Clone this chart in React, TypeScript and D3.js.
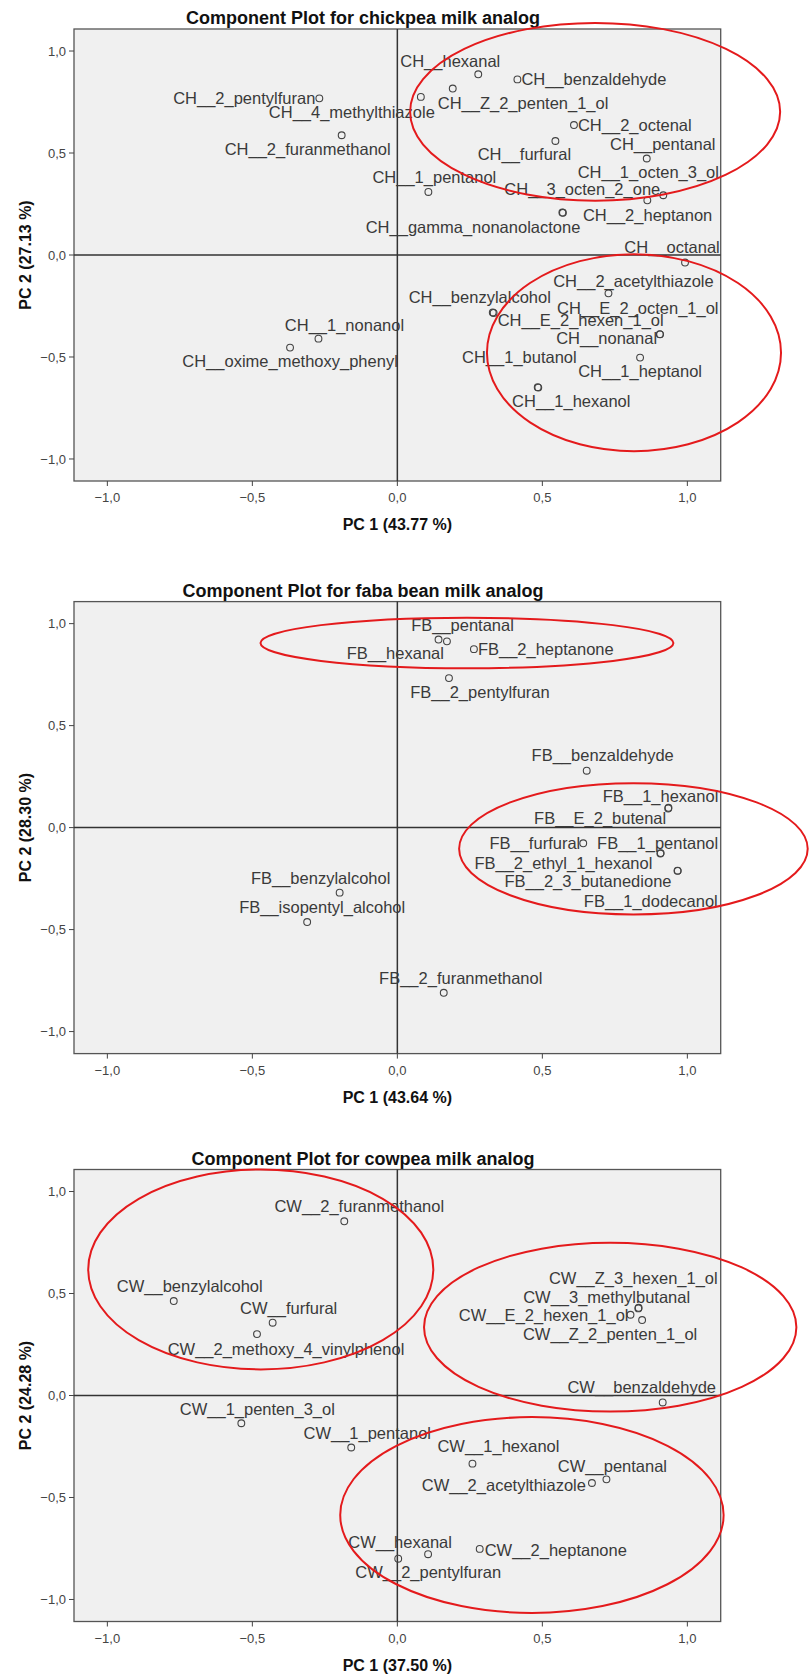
import * as d3 from "d3";
import React from "react";

// ---- data ----
const axisTicks = [-1, -0.5, 0, 0.5, 1];

const chTitle = "Component Plot for chickpea milk analog";
const chPC1Label = "PC 1 (43.77 %)";
const chPC2Label = "PC 2 (27.13 %)";
const chNames = [
  "CH__hexanal", "CH__benzaldehyde", "CH__Z_2_penten_1_ol", "CH__4_methylthiazole",
  "CH__2_pentylfuran", "CH__2_furanmethanol", "CH__2_octenal", "CH__furfural",
  "CH__pentanal", "CH__1_octen_3_ol", "CH__3_octen_2_one", "CH__1_pentanol",
  "CH__2_heptanon", "CH__gamma_nonanolactone", "CH__octanal", "CH__2_acetylthiazole",
  "CH__benzylalcohol", "CH__E_2_hexen_1_ol", "CH__E_2_octen_1_ol", "CH__nonanal",
  "CH__1_butanol", "CH__1_heptanol", "CH__1_hexanol", "CH__1_nonanol",
  "CH__oxime_methoxy_phenyl",
];
const chPC1 = [
  0.279, 0.414, 0.191, 0.081, -0.269, -0.192, 0.609, 0.545, 0.86, 0.862, 0.917, 0.107,
  0.571, 0.569, 0.992, 0.728, 0.329, 0.332, 0.905, 0.906, 0.484, 0.837, 0.486, -0.272,
  -0.37,
];
const chPC2 = [
  0.886, 0.861, 0.816, 0.775, 0.768, 0.587, 0.637, 0.559, 0.473, 0.268, 0.293, 0.309,
  0.207, 0.208, -0.037, -0.188, -0.282, -0.284, -0.388, -0.389, -0.648, -0.503, -0.65,
  -0.41, -0.454,
];

const fbTitle = "Component Plot for faba bean milk analog";
const fbPC1Label = "PC 1 (43.64 %)";
const fbPC2Label = "PC 2 (28.30 %)";
const fbNames = [
  "FB__pentanal", "FB__hexanal", "FB__2_heptanone", "FB__2_pentylfuran",
  "FB__benzaldehyde", "FB__1_hexanol", "FB__E_2_butenal", "FB__furfural",
  "FB__1_pentanol", "FB__2_ethyl_1_hexanol", "FB__2_3_butanedione", "FB__1_dodecanol",
  "FB__benzylalcohol", "FB__isopentyl_alcohol", "FB__2_furanmethanol",
];
const fbPC1 = [
  0.142, 0.171, 0.264, 0.178, 0.653, 0.935, 0.934, 0.641, 0.908, 0.907, 0.966, 0.967,
  -0.199, -0.311, 0.16,
];
const fbPC2 = [
  0.922, 0.913, 0.875, 0.733, 0.279, 0.097, 0.094, -0.077, -0.125, -0.127, -0.211,
  -0.212, -0.319, -0.463, -0.81,
];

const cwTitle = "Component Plot for cowpea milk analog";
const cwPC1Label = "PC 1 (37.50 %)";
const cwPC2Label = "PC 2 (24.28 %)";
const cwNames = [
  "CW__2_furanmethanol", "CW__benzylalcohol", "CW__furfural", "CW__2_methoxy_4_vinylphenol",
  "CW__1_penten_3_ol", "CW__1_pentanol", "CW__2_pentylfuran", "CW__hexanal",
  "CW__2_heptanone", "CW__1_hexanol", "CW__2_acetylthiazole", "CW__pentanal",
  "CW__Z_3_hexen_1_ol", "CW__3_methylbutanal", "CW__E_2_hexen_1_ol", "CW__Z_2_penten_1_ol",
  "CW__benzaldehyde",
];
const cwPC1 = [
  -0.183, -0.771, -0.43, -0.484, -0.538, -0.159, 0.003, 0.106, 0.284, 0.259, 0.671, 0.721,
  0.831, 0.832, 0.804, 0.844, 0.915,
];
const cwPC2 = [
  0.854, 0.463, 0.357, 0.301, -0.136, -0.255, -0.8, -0.778, -0.752, -0.334, -0.429, -0.411,
  0.427, 0.43, 0.396, 0.37, -0.034,
];

// red hand-drawn groupings (centre x, centre y, radius x, radius y) in loading units
const chRings = [[0.682, 0.702, 0.638, 0.436], [0.816, -0.479, 0.507, 0.483]];
const fbRings = [[0.24, 0.905, 0.712, 0.124], [0.814, -0.104, 0.601, 0.322]];
const cwRings = [
  [-0.471, 0.618, 0.595, 0.49],
  [0.734, 0.335, 0.642, 0.414],
  [0.464, -0.586, 0.661, 0.48],
];

// label placement relative to the marker: anchor, dx, dy (pixels)
const chLabelPos = [
  ["middle", -28, -13], ["start", 4, 0], ["start", -15, 15], ["end", 14, 15],
  ["end", -4, 0], ["middle", -34, 14], ["start", 4, 0], ["middle", -31, 13],
  ["middle", 16, -14], ["middle", 1, -28], ["end", -3, -6], ["middle", 6, -15],
  ["start", 20, 2], ["end", 18, 15], ["middle", -13, -15], ["middle", 25, -12],
  ["middle", -13, -15], ["start", 4, 7], ["middle", -22, -26], ["end", -3, 4],
  ["end", 39, -30], ["middle", 0, 14], ["middle", 33, 14], ["middle", 26, -13],
  ["middle", 0, 14],
];
const fbLabelPos = [
  ["middle", 24, -14], ["end", -3, 12], ["start", 4, 0], ["middle", 31, 14],
  ["middle", 16, -15], ["middle", -8, -12], ["end", -2, 10], ["end", -3, 0],
  ["middle", -3, -10], ["end", -8, 10], ["end", -6, 11], ["middle", -27, 30],
  ["middle", -19, -14], ["middle", 15, -15], ["middle", 17, -15],
];
const cwLabelPos = [
  ["middle", 15, -15], ["middle", 16, -15], ["middle", 16, -14], ["middle", 29, 15],
  ["middle", 16, -14], ["middle", 16, -14], ["middle", 30, 14], ["middle", -28, -12],
  ["start", 5, 1], ["middle", 26, -17], ["end", -6, 2], ["middle", 6, -13],
  ["middle", -5, -30], ["middle", -32, -11], ["end", -2, 0], ["middle", -32, 14],
  ["middle", -21, -15],
];

const width = 809;
const height = 1680;
const plotLeft = 74;
const plotRight = 720.7;
const plotH = 452;

const fmt = d3.formatLocale({ decimal: ",", thousands: ".", grouping: [3], currency: ["", ""] }).format(".1f");

function ComponentPlot(props) {
  const { id, top, title, xTitle, yTitle, names, pc1, pc2, labelPos, rings } = props;
  const x = d3.scaleLinear().domain([-1.115, 1.115]).range([plotLeft, plotRight]);
  const y = d3.scaleLinear().domain([-1.108, 1.108]).range([top + plotH, top]);
  const bottom = top + plotH;
  const midY = top + plotH / 2;

  return (
    <g>
      <defs>
        <clipPath id={"clip-" + id}>
          <rect x={plotLeft} y={top} width={plotRight - plotLeft} height={plotH} />
        </clipPath>
      </defs>
      <text x={363} y={top - 5} textAnchor="middle" fontSize={18} fontWeight="bold" fill="#111">
        {title}
      </text>
      <rect x={plotLeft} y={top} width={plotRight - plotLeft} height={plotH} fill="#f0f0f0" stroke="#555" strokeWidth={1.3} />
      <line x1={x(0)} x2={x(0)} y1={top} y2={bottom} stroke="#333" strokeWidth={1.5} />
      <line x1={plotLeft} x2={plotRight} y1={y(0)} y2={y(0)} stroke="#333" strokeWidth={1.5} />

      {axisTicks.map((t) => (
        <g key={"yt" + t}>
          <line x1={plotLeft - 5} x2={plotLeft} y1={y(t)} y2={y(t)} stroke="#444" />
          <text x={plotLeft - 8} y={y(t)} dy="0.35em" textAnchor="end" fontSize={13} fill="#444">
            {fmt(t)}
          </text>
        </g>
      ))}
      {axisTicks.map((t) => (
        <g key={"xt" + t}>
          <line x1={x(t)} x2={x(t)} y1={bottom} y2={bottom + 5} stroke="#444" />
          <text x={x(t)} y={bottom + 21} textAnchor="middle" fontSize={13} fill="#444">
            {fmt(t)}
          </text>
        </g>
      ))}
      <text x={(plotLeft + plotRight) / 2} y={bottom + 49} textAnchor="middle" fontSize={16} fontWeight="bold" fill="#111">
        {xTitle}
      </text>
      <text
        transform={"translate(25," + midY + ") rotate(-90)"}
        textAnchor="middle"
        dy="0.35em"
        fontSize={16}
        fontWeight="bold"
        fill="#111"
      >
        {yTitle}
      </text>

      <g clipPath={"url(#clip-" + id + ")"}>
        {names.map((n, i) => (
          <circle key={"p" + n} cx={x(pc1[i])} cy={y(pc2[i])} r={3.4} fill="none" stroke="#444" strokeWidth={1.1} />
        ))}
        {names.map((n, i) => {
          const [anchor, dx, dy] = labelPos[i];
          return (
            <text
              key={"l" + n}
              x={x(pc1[i]) + dx}
              y={y(pc2[i]) + dy}
              dy="0.35em"
              textAnchor={anchor}
              fontSize={16.5}
              fill="#3a3a3a"
            >
              {n}
            </text>
          );
        })}
      </g>

      {rings.map((r, i) => (
        <ellipse
          key={"r" + i}
          cx={x(r[0])}
          cy={y(r[1])}
          rx={x(r[2]) - x(0)}
          ry={y(0) - y(r[3])}
          fill="none"
          stroke="#e41a1c"
          strokeWidth={2}
        />
      ))}
    </g>
  );
}

export default function App() {
  return (
    <svg
      width={width}
      height={height}
      style={{ position: "absolute", left: 0, top: 0, background: "#fff" }}
      fontFamily="'Liberation Sans', Arial, sans-serif"
    >
      <rect width={width} height={height} fill="#fff" />
      <ComponentPlot id="ch" top={29} title={chTitle} xTitle={chPC1Label} yTitle={chPC2Label}
        names={chNames} pc1={chPC1} pc2={chPC2} labelPos={chLabelPos} rings={chRings} />
      <ComponentPlot id="fb" top={601.6} title={fbTitle} xTitle={fbPC1Label} yTitle={fbPC2Label}
        names={fbNames} pc1={fbPC1} pc2={fbPC2} labelPos={fbLabelPos} rings={fbRings} />
      <ComponentPlot id="cw" top={1169.5} title={cwTitle} xTitle={cwPC1Label} yTitle={cwPC2Label}
        names={cwNames} pc1={cwPC1} pc2={cwPC2} labelPos={cwLabelPos} rings={cwRings} />
    </svg>
  );
}
